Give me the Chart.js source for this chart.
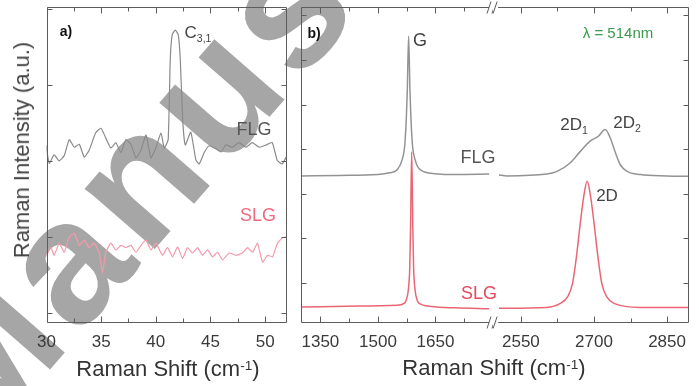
<!DOCTYPE html>
<html>
<head>
<meta charset="utf-8">
<script src="https://cdn.jsdelivr.net/npm/chart.js@4.4.1/dist/chart.umd.min.js"></script>
<style>
  body { margin: 0; background: #fff; }
  #wrap { position: relative; width: 699px; height: 386px; overflow: hidden; background: #fff; }
  canvas { position: absolute; top: 0; }
  .t { position: absolute; transform: translate(-50%, -50%); white-space: nowrap;
       font-family: "Liberation Sans", Arial, sans-serif; line-height: 1; color: #444; }
  .sub { position: relative; top: 0.4em; font-size: 0.62em; }
  .sup { position: relative; top: -0.45em; font-size: 0.62em; }
</style>
</head>
<body>
<div id="wrap">
  <canvas id="wm" width="699" height="386" style="left:0"></canvas>
  <canvas id="chartA" width="292" height="386" style="left:0"></canvas>
  <canvas id="chartB1" width="201" height="386" style="left:292px"></canvas>
  <canvas id="chartB2" width="206" height="386" style="left:493px"></canvas>

  <!-- panel a labels -->
  <div class="t" style="left:66px;top:31px;font-size:14px;font-weight:bold;color:#111">a)</div>
  <div class="t" style="left:198px;top:32px;font-size:17px">C<span class="sub">3,1</span></div>
  <div class="t" style="left:254px;top:129px;font-size:18px;color:#555">FLG</div>
  <div class="t" style="left:258px;top:215px;font-size:18px;color:#f06a80">SLG</div>
  <div class="t" style="left:22px;top:150px;font-size:22px;transform:translate(-50%,-50%) rotate(-90deg)">Raman Intensity (a.u.)</div>
  <div class="t" style="left:168px;top:369px;font-size:22px;color:#333">Raman Shift (cm<span class="sup">-1</span>)</div>

  <!-- panel b labels -->
  <div class="t" style="left:314px;top:33px;font-size:14px;font-weight:bold;color:#111">b)</div>
  <div class="t" style="left:420px;top:40px;font-size:18px">G</div>
  <div class="t" style="left:618px;top:32px;font-size:15px;color:#3a9a4a">&lambda; = 514nm</div>
  <div class="t" style="left:574px;top:124px;font-size:17px">2D<span class="sub">1</span></div>
  <div class="t" style="left:627px;top:122px;font-size:17px">2D<span class="sub">2</span></div>
  <div class="t" style="left:478px;top:157px;font-size:18px;color:#555">FLG</div>
  <div class="t" style="left:607px;top:195px;font-size:17px">2D</div>
  <div class="t" style="left:479px;top:293px;font-size:18px;color:#e8485a">SLG</div>
  <div class="t" style="left:494px;top:368px;font-size:22px;color:#333">Raman Shift (cm<span class="sup">-1</span>)</div>
</div>

<script>
// ---- panel a: low-frequency region ----
const aXTicks = [30, 35, 40, 45, 50];
const aXMinor = [32.5, 37.5, 42.5, 47.5];
const aYTicks = [0, 1, 2, 3, 4];

const aFlgX = [29.95, 30.25, 30.7, 31.16, 31.62, 32.08, 32.54, 33.0, 33.45, 33.9, 34.5, 34.98, 35.43, 35.89, 36.35, 36.8, 37.26, 37.72, 38.18, 38.64, 39.1, 39.55, 40.0, 40.47, 40.77, 41.13, 41.32, 41.5, 41.78, 42.05, 42.24, 42.46, 42.7, 43.2, 43.67, 43.97, 44.43, 44.89, 45.5, 45.96, 46.41, 46.99, 47.63, 48.24, 48.82, 49.46, 50.07, 50.65, 51.1, 51.56, 51.92];
const aFlgY = [2.21, 1.97, 2.08, 2.0, 2.07, 2.28, 2.18, 2.22, 2.05, 2.14, 2.37, 2.43, 2.30, 2.17, 2.24, 2.11, 2.28, 2.22, 2.04, 2.14, 2.34, 2.04, 2.17, 2.37, 2.17, 2.28, 3.33, 3.66, 3.72, 3.66, 3.33, 2.54, 2.21, 2.38, 2.01, 1.96, 2.11, 2.20, 2.16, 2.12, 2.21, 2.18, 2.24, 2.18, 2.24, 2.18, 2.21, 2.24, 2.01, 1.96, 2.05];

const aSlgX = [29.95, 30.4, 30.7, 31.16, 31.62, 32.08, 32.54, 32.99, 33.45, 33.9, 34.36, 34.82, 35.12, 35.43, 35.89, 36.35, 36.81, 37.26, 37.72, 38.18, 38.64, 39.09, 39.55, 40.01, 40.61, 41.07, 41.53, 41.99, 42.44, 42.9, 43.36, 43.82, 44.27, 44.73, 45.19, 45.65, 46.1, 46.72, 47.33, 47.93, 48.39, 48.85, 49.3, 49.76, 50.22, 50.68, 51.13, 51.59, 51.93];
const aSlgY = [0.74, 0.86, 0.76, 0.92, 0.80, 1.00, 1.05, 0.89, 0.96, 0.86, 0.92, 0.79, 0.53, 0.80, 0.92, 0.83, 0.89, 0.86, 0.89, 0.80, 0.89, 0.96, 0.83, 0.92, 0.76, 0.86, 0.74, 0.87, 0.72, 0.86, 0.79, 0.86, 0.76, 0.83, 0.74, 0.80, 0.70, 0.79, 0.76, 0.79, 0.86, 0.80, 0.92, 0.67, 0.76, 0.74, 0.92, 0.99, 1.0];

// ---- panel b: G and 2D region, broken axis ----
const bLeftTicks = [1350, 1500, 1650];
const bLeftMinor = [1425, 1575, 1725];
const bRightTicks = [2550, 2700, 2850];
const bRightMinor = [2625, 2775];
const bYTicks = [0, 1, 2, 3, 4, 5, 6];

const bFlgLX = [1300, 1400, 1500, 1530, 1550, 1563, 1570, 1574, 1576.5, 1580, 1583.5, 1586, 1590, 1597, 1610, 1650, 1700, 1790];
const bFlgLY = [2.40, 2.41, 2.43, 2.47, 2.54, 2.76, 3.10, 3.70, 4.30, 5.53, 4.30, 3.70, 3.10, 2.76, 2.54, 2.45, 2.43, 2.44];
const bSlgLX = [1300, 1450, 1550, 1570, 1574, 1579, 1583, 1585, 1588, 1591, 1593, 1597, 1602, 1606, 1640, 1700, 1790];
const bSlgLY = [-0.54, -0.52, -0.50, -0.45, -0.38, -0.17, 0.35, 1.21, 2.94, 1.21, 0.35, -0.17, -0.38, -0.45, -0.53, -0.56, -0.58];

const bFlgRX = [2505, 2521, 2603, 2624, 2651, 2672, 2692, 2709, 2723, 2733, 2744, 2754, 2768, 2795, 2850, 2895];
const bFlgRY = [2.42, 2.40, 2.44, 2.50, 2.69, 2.95, 3.18, 3.29, 3.44, 3.26, 2.92, 2.65, 2.50, 2.43, 2.40, 2.39];
const bSlgRX = [2505, 2603, 2631, 2646, 2656, 2664, 2672, 2679, 2686, 2693, 2700, 2708, 2716, 2726, 2741, 2795, 2895];
const bSlgRY = [-0.57, -0.55, -0.46, -0.31, -0.01, 0.59, 1.35, 1.94, 2.28, 1.94, 1.35, 0.59, -0.01, -0.31, -0.46, -0.55, -0.55];

const FONT = '"Liberation Sans", Arial, sans-serif';
const pairs = (xs, ys) => xs.map((x, i) => ({ x: x, y: ys[i] }));

// Frame with inward tick marks (and axis-break slashes)
const frameTicks = {
  id: 'frameTicks',
  afterDatasetsDraw(chart, args, o) {
    const ctx = chart.ctx, a = chart.chartArea;
    const x = chart.scales.x, y = chart.scales.y;
    const L = Math.round(a.left) + 0.5, R = Math.round(a.right) - 0.5;
    const T = Math.round(a.top) + 0.5, B = Math.round(a.bottom) - 0.5;
    ctx.save();
    ctx.strokeStyle = '#5c5c5c';
    ctx.lineWidth = 1;
    ctx.beginPath();
    const x0 = o.breakAt === 'left' ? a.left + 4 : L;
    const x1 = o.breakAt === 'right' ? a.right - 4 : R;
    ctx.moveTo(x0, T); ctx.lineTo(x1, T);
    ctx.moveTo(x0, B); ctx.lineTo(x1, B);
    if (o.left) { ctx.moveTo(L, T); ctx.lineTo(L, B); }
    if (o.right) { ctx.moveTo(R, T); ctx.lineTo(R, B); }
    const xt = (v, len) => {
      const px = Math.round(x.getPixelForValue(v)) + 0.5;
      ctx.moveTo(px, B); ctx.lineTo(px, B - len);
      ctx.moveTo(px, T); ctx.lineTo(px, T + len);
    };
    o.xMajor.forEach(v => xt(v, 6));
    o.xMinor.forEach(v => xt(v, 4));
    o.yTicks.forEach(v => {
      const py = Math.round(y.getPixelForValue(v)) + 0.5;
      if (o.left) { ctx.moveTo(L, py); ctx.lineTo(L + 5, py); }
      if (o.right) { ctx.moveTo(R, py); ctx.lineTo(R - 5, py); }
    });
    ctx.stroke();
    if (o.breakAt) {
      const bx = o.breakAt === 'right' ? a.right : a.left;
      ctx.beginPath();
      [T, B].forEach(yy => {
        ctx.moveTo(bx - 6, yy + 6); ctx.lineTo(bx - 2, yy - 6);
        ctx.moveTo(bx - 1, yy + 6); ctx.lineTo(bx + 3, yy - 6);
      });
      ctx.stroke();
    }
    ctx.restore();
  }
};

function makeChart(id, cfg) {
  return new Chart(document.getElementById(id), {
    type: 'line',
    data: { datasets: cfg.datasets },
    options: {
      responsive: false,
      animation: false,
      devicePixelRatio: 1,
      layout: { padding: cfg.padding },
      elements: { point: { radius: 0 } },
      plugins: {
        legend: { display: false },
        tooltip: { enabled: false },
        frameTicks: cfg.frame
      },
      scales: {
        x: {
          type: 'linear',
          min: cfg.xMin, max: cfg.xMax,
          afterBuildTicks: s => { s.ticks = cfg.xTicks.map(v => ({ value: v })); },
          afterFit: s => { s.height = 63; },
          ticks: {
            font: { family: FONT, size: 17 }, color: '#3a3a3a', padding: 9,
            maxRotation: 0, autoSkip: false, callback: v => String(v)
          },
          grid: { display: false, drawTicks: false },
          border: { display: false }
        },
        y: {
          position: cfg.yPos,
          min: cfg.yMin, max: cfg.yMax,
          afterFit: s => { s.width = cfg.yWidth; },
          ticks: { display: false },
          grid: { display: false, drawTicks: false },
          border: { display: false }
        }
      }
    },
    plugins: [frameTicks]
  });
}

function line(xs, ys, color, width, smooth) {
  return {
    data: pairs(xs, ys),
    borderColor: color,
    borderWidth: width,
    fill: false,
    cubicInterpolationMode: smooth ? 'monotone' : 'default',
    tension: smooth ? 0 : 0.15
  };
}

makeChart('chartA', {
  datasets: [
    line(aFlgX, aFlgY, '#8a8a8a', 1.2, false),
    line(aSlgX, aSlgY, '#f39aab', 1.2, false)
  ],
  padding: { top: 6.5, right: 5, left: 0, bottom: 0 },
  xMin: 30, xMax: 52, xTicks: aXTicks,
  yMin: -0.13, yMax: 4.03, yPos: 'left', yWidth: 46.5,
  frame: { left: true, right: true, xMajor: aXTicks, xMinor: aXMinor, yTicks: aYTicks }
});

makeChart('chartB1', {
  datasets: [
    line(bFlgLX, bFlgLY, '#939393', 1.5, true),
    line(bSlgLX, bSlgLY, '#ea6674', 1.5, true)
  ],
  padding: { top: 6.5, right: 0, left: 0, bottom: 0 },
  xMin: 1300, xMax: 1800, xTicks: bLeftTicks,
  yMin: -0.9, yMax: 6.2, yPos: 'left', yWidth: 5,
  frame: { left: true, right: false, breakAt: 'right', xMajor: bLeftTicks, xMinor: bLeftMinor, yTicks: bYTicks }
});

makeChart('chartB2', {
  datasets: [
    line(bFlgRX, bFlgRY, '#939393', 1.5, true),
    line(bSlgRX, bSlgRY, '#ea6674', 1.5, true)
  ],
  padding: { top: 6.5, right: 0, left: 0, bottom: 0 },
  xMin: 2495, xMax: 2895, xTicks: bRightTicks,
  yMin: -0.9, yMax: 6.2, yPos: 'right', yWidth: 10,
  frame: { left: false, right: true, breakAt: 'left', xMajor: bRightTicks, xMinor: bRightMinor, yTicks: bYTicks }
});

// "Accepted Manuscript" watermark lying behind the figure
(function () {
  const ctx = document.getElementById('wm').getContext('2d');
  const text = 'Accepted Manuscript';
  ctx.font = 'bold 175px ' + FONT;
  ctx.letterSpacing = '8px';
  ctx.fillStyle = '#a6a6a6';
  const dx = ctx.measureText('Accepted Ma').width + ctx.measureText('n').width / 2;
  const ang = 49 * Math.PI / 180;
  ctx.translate(150, 185);
  ctx.rotate(-ang);
  ctx.fillText(text, -dx, 0.26 * 175);
})();
</script>
</body>
</html>
